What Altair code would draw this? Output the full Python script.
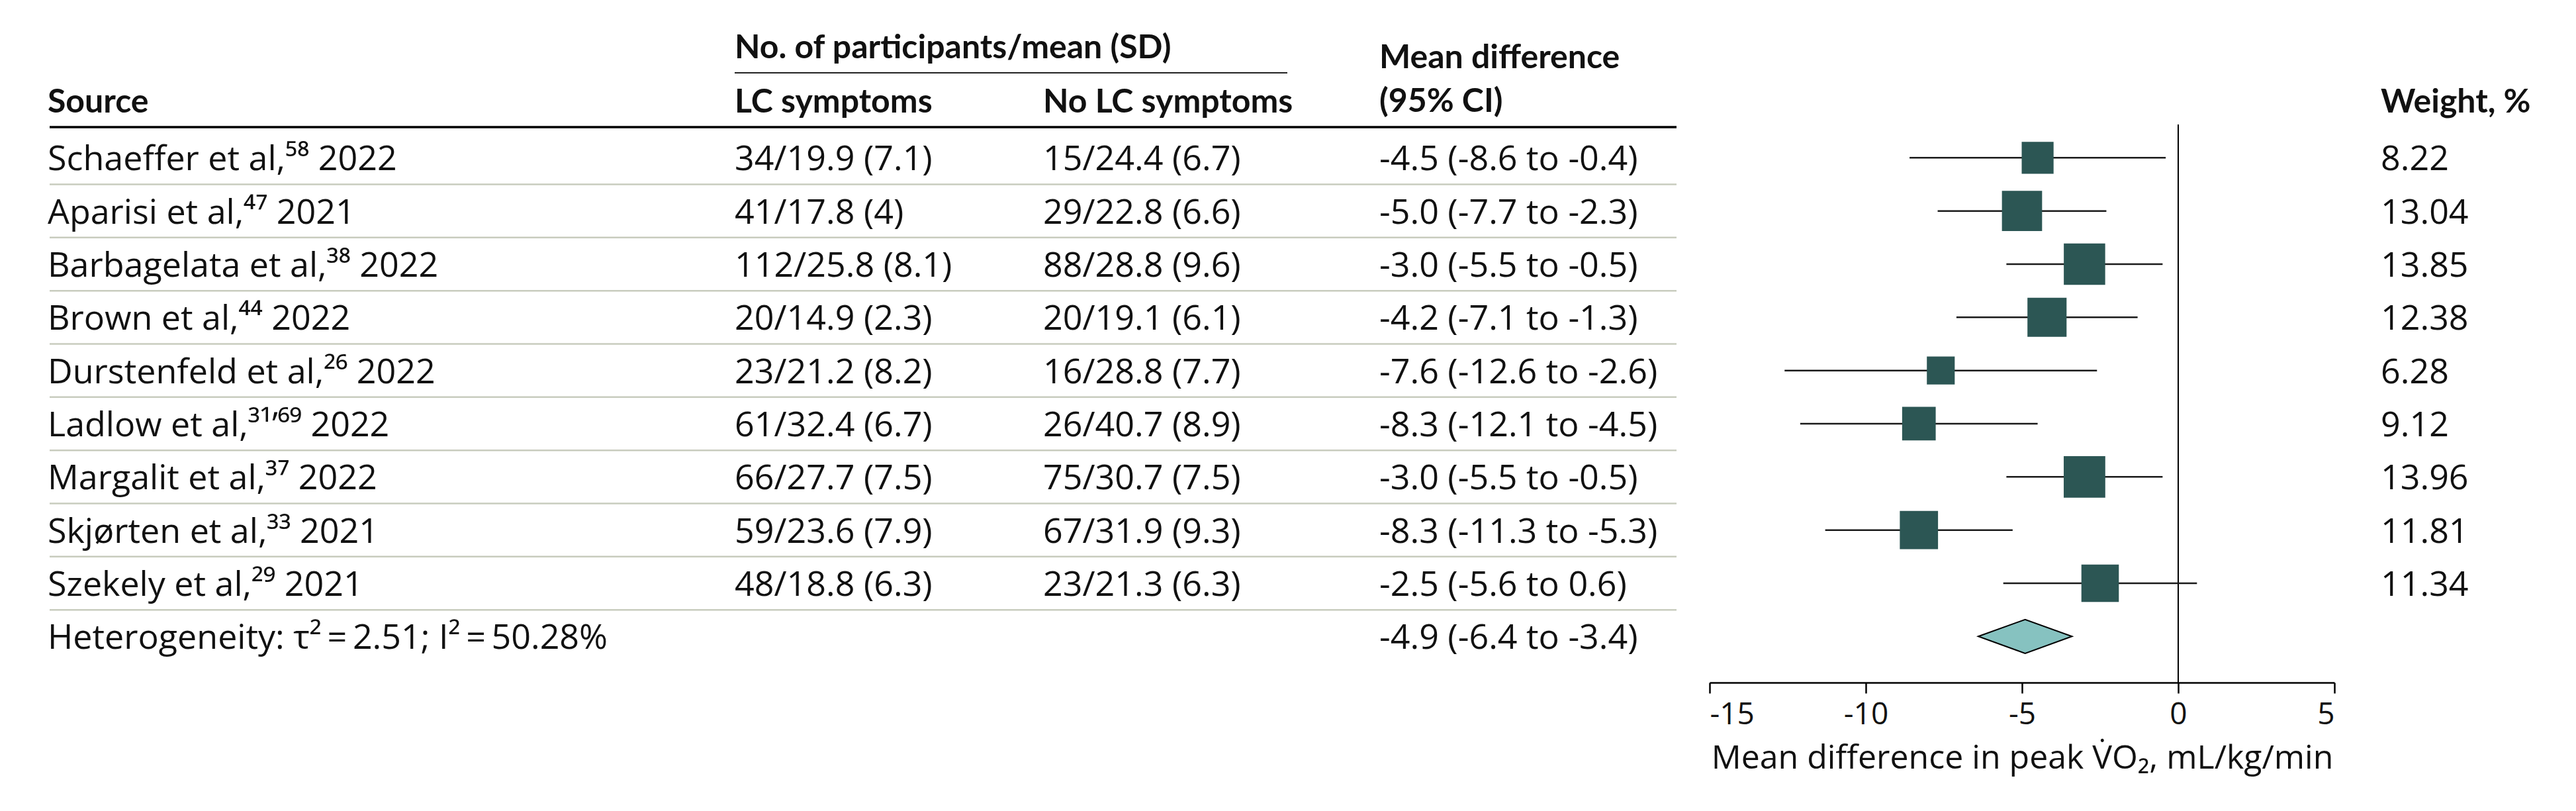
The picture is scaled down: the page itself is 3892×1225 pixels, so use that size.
import altair as alt
import pandas as pd

# ---------------- data ----------------
sources = [
    "Schaeffer et al,⁵⁸ 2022",
    "Aparisi et al,⁴⁷ 2021",
    "Barbagelata et al,³⁸ 2022",
    "Brown et al,⁴⁴ 2022",
    "Durstenfeld et al,²⁶ 2022",
    "Ladlow et al,³¹ʼ⁶⁹ 2022",
    "Margalit et al,³⁷ 2022",
    "Skjørten et al,³³ 2021",
    "Szekely et al,²⁹ 2021",
]
lc_text = ["34/19.9 (7.1)", "41/17.8 (4)", "112/25.8 (8.1)", "20/14.9 (2.3)",
           "23/21.2 (8.2)", "61/32.4 (6.7)", "66/27.7 (7.5)", "59/23.6 (7.9)",
           "48/18.8 (6.3)"]
nolc_text = ["15/24.4 (6.7)", "29/22.8 (6.6)", "88/28.8 (9.6)", "20/19.1 (6.1)",
             "16/28.8 (7.7)", "26/40.7 (8.9)", "75/30.7 (7.5)", "67/31.9 (9.3)",
             "23/21.3 (6.3)"]
md = [-4.5, -5.0, -3.0, -4.2, -7.6, -8.3, -3.0, -8.3, -2.5]
lo = [-8.6, -7.7, -5.5, -7.1, -12.6, -12.1, -5.5, -11.3, -5.6]
hi = [-0.4, -2.3, -0.5, -1.3, -2.6, -4.5, -0.5, -5.3, 0.6]
weights = [8.22, 13.04, 13.85, 12.38, 6.28, 9.12, 13.96, 11.81, 11.34]

pooled_label = "Heterogeneity: τ²\u2009=\u20092.51; I²\u2009=\u200950.28%"
pooled_md, pooled_lo, pooled_hi = -4.9, -6.4, -3.4

x_ticks = [-15, -10, -5, 0, 5]
x_title = "Mean difference in peak V̇O₂, mL/kg/min"

# ---------------- tables ----------------
def fmt_ci(m, l, h):
    return f"{m:.1f} ({l:.1f} to {h:.1f})"

n = len(sources)
studies = pd.DataFrame({
    "row": list(range(n)),
    "source": sources,
    "lc": lc_text,
    "nolc": nolc_text,
    "md": md,
    "lo": lo,
    "hi": hi,
    "weight": weights,
    "md_text": [fmt_ci(m, l, h) for m, l, h in zip(md, lo, hi)],
    "w_text": [f"{w:.2f}" for w in weights],
})

pooled_row = n
pooled = pd.DataFrame({
    "row": [pooled_row],
    "source": [pooled_label],
    "md_text": [fmt_ci(pooled_md, pooled_lo, pooled_hi)],
})

DIAMOND_HALF = 0.318  # half height in row units (style)
diamond = pd.DataFrame({
    "x": [pooled_lo, pooled_md, pooled_hi],
    "y": [pooled_row, pooled_row - DIAMOND_HALF, pooled_row],
    "y2": [pooled_row, pooled_row + DIAMOND_HALF, pooled_row],
})

separators = pd.DataFrame({"row": [i + 0.5 for i in range(n)]})

# ---------------- styling / layout ----------------
W, H = 3870, 1023
BODY_FONT = "Open Sans"
HEAD_FONT = "Lato"
BODY_SIZE = 52
HEAD_SIZE = 50
TXT = "#111111"
BOX = "#2c5654"
DIA = "#86c2c0"
SEP = "#c8ccbe"

X_SCALE = alt.Scale(domain=[-15, 5], range=[2575, 3519], nice=False, zero=False)
Y_SCALE = alt.Scale(domain=[0, 9], range=[230.3, 953.3], nice=False, zero=False)

COL_SOURCE, COL_LC, COL_NOLC, COL_MD, COL_W = 64, 1102, 1568, 2076, 3589
DY = 19

base = alt.Chart(studies)

# row separators
sep = alt.Chart(separators).mark_rule(color=SEP, strokeWidth=2.5).encode(
    y=alt.Y("row:Q", scale=Y_SCALE, axis=None),
    x=alt.value(67), x2=alt.value(2525),
)

# header rules
head_line = alt.Chart(pd.DataFrame({"k": [0]})).mark_rule(color="black", strokeWidth=3.5).encode(
    y=alt.value(184), x=alt.value(67), x2=alt.value(2525))
sub_line = alt.Chart(pd.DataFrame({"k": [0]})).mark_rule(color="#222222", strokeWidth=2).encode(
    y=alt.value(102), x=alt.value(1102), x2=alt.value(1937))

# zero line
zero = alt.Chart(pd.DataFrame({"z": [0]})).mark_rule(color="black", strokeWidth=2).encode(
    x=alt.X("z:Q", scale=X_SCALE,
            axis=alt.Axis(values=x_ticks, title=x_title, grid=False,
                          labelExpr="'' + datum.value")),
    y=alt.value(180), y2=alt.value(H),
)

ci = base.mark_rule(color="#1a1a1a", strokeWidth=2.5).encode(
    x=alt.X("lo:Q", scale=X_SCALE), x2="hi:Q",
    y=alt.Y("row:Q", scale=Y_SCALE),
)

boxes = base.mark_square(color=BOX, opacity=1, strokeWidth=0).encode(
    x=alt.X("md:Q", scale=X_SCALE),
    y=alt.Y("row:Q", scale=Y_SCALE),
    size=alt.Size("weight:Q", scale=alt.Scale(domain=[0, 14], range=[0, 3950]), legend=None),
)

dia = alt.Chart(diamond).mark_area(color=DIA, fill=DIA, stroke="black", strokeWidth=2,
                                   opacity=1, line=False).encode(
    x=alt.X("x:Q", scale=X_SCALE),
    y=alt.Y("y:Q", scale=Y_SCALE),
    y2="y2:Q",
)

def col_text(df, field, xpos):
    return alt.Chart(df).mark_text(align="left", baseline="alphabetic", dy=DY,
                                   font=BODY_FONT, fontSize=BODY_SIZE, color=TXT).encode(
        x=alt.value(xpos), y=alt.Y("row:Q", scale=Y_SCALE), text=f"{field}:N")

texts = [
    col_text(studies, "source", COL_SOURCE),
    col_text(studies, "lc", COL_LC),
    col_text(studies, "nolc", COL_NOLC),
    col_text(studies, "md_text", COL_MD),
    col_text(studies, "w_text", COL_W),
    col_text(pooled, "source", COL_SOURCE),
    col_text(pooled, "md_text", COL_MD),
]

headers = pd.DataFrame({
    "label": ["Source", "No. of participants/mean (SD)", "LC symptoms", "No LC symptoms",
              "Mean difference", "(95% CI)", "Weight, %"],
    "px": [COL_SOURCE, COL_LC, COL_LC, COL_NOLC, COL_MD, COL_MD, COL_W],
    "py": [162, 80, 162, 162, 95, 161, 162],
})
head_text = alt.Chart(headers).mark_text(align="left", baseline="alphabetic", font=HEAD_FONT,
                                          fontSize=HEAD_SIZE, fontWeight="bold", color=TXT).encode(
    x=alt.X("px:Q", scale=None), y=alt.Y("py:Q", scale=None), text="label:N")

chart = alt.layer(sep, head_line, sub_line, zero, ci, boxes, dia, head_text, *texts).properties(
    width=W, height=H, padding={"left": 0, "top": 0, "right": 0, "bottom": 20},
    background="white",
).configure_view(stroke=None).configure_axis(
    domainColor="black", domainWidth=2.5, tickColor="black", tickWidth=2.5, tickSize=16,
    labelFont=BODY_FONT, labelFontSize=46, labelColor=TXT, labelPadding=10,
    titleFont=BODY_FONT, titleFontSize=50, titleFontWeight="normal", titleColor=TXT,
    titlePadding=18,
)

chart.save("out.html", embed_options={"renderer": "svg", "actions": False})
